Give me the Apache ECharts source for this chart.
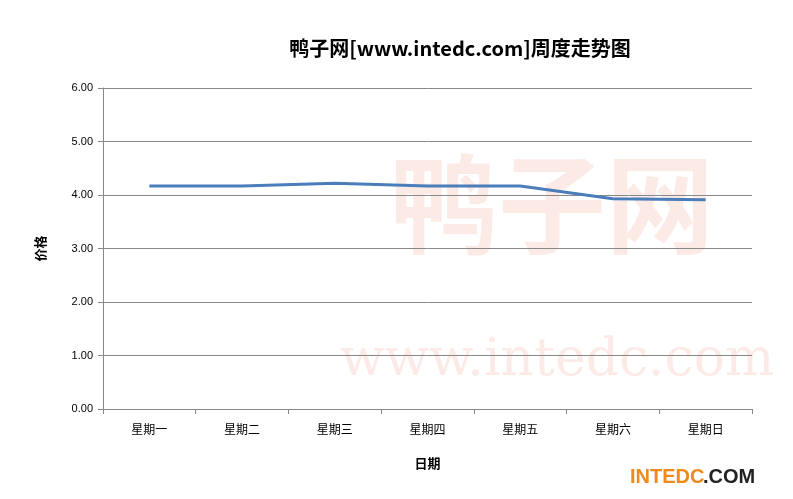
<!DOCTYPE html>
<html><head><meta charset="utf-8">
<script src="https://cdn.jsdelivr.net/npm/echarts@6/dist/echarts.min.js"></script>
<style>html,body{margin:0;padding:0;background:#fff}#c{width:793px;height:499px}</style>
</head><body><div id="c"></div>
<script>
const categories = ['星期一','星期二','星期三','星期四','星期五','星期六','星期日'];
const prices = [4.17, 4.17, 4.22, 4.17, 4.17, 3.93, 3.91];
const yTicks = [0,1,2,3,4,5,6];
const chart = echarts.init(document.getElementById('c'));
chart.setOption({
  animation:false,
  title:{text:'鸭子网[www.intedc.com]周度走势图',left:455,top:33,textAlign:'center',
    textStyle:{fontFamily:'Noto Sans CJK SC',fontSize:20,fontWeight:'bold',color:'#000'}},
  grid:{left:103,right:41,top:88,bottom:90},
  graphic:[
    {type:'text',left:390,top:150,z:-1,style:{text:'鸭子网',fontSize:108,fontFamily:'Noto Sans CJK SC',fontWeight:'bold',fill:'rgba(240,140,120,0.18)'}},
    {type:'text',left:340,top:335,z:-1,style:{text:'www.intedc.com',fontSize:52,fontFamily:'DejaVu Serif',fill:'rgba(240,140,120,0.18)'}},
    {type:'text',left:630,top:467,style:{text:'INTEDC',fontSize:20,fontWeight:'bold',fontFamily:'Liberation Sans',fill:'#f08a1c'}},
    {type:'text',left:703,top:467,style:{text:'.COM',fontSize:20,fontWeight:'bold',fontFamily:'Liberation Sans',fill:'#222'}}
  ],
  xAxis:{type:'category',data:categories,boundaryGap:true,name:'日期',nameLocation:'middle',nameGap:48,
    nameTextStyle:{fontFamily:'Noto Sans CJK SC',fontSize:13,fontWeight:'bold',color:'#000'},
    axisLine:{lineStyle:{color:'#888'}},axisTick:{show:true,length:5,lineStyle:{color:'#888'}},
    axisLabel:{fontFamily:'Noto Sans CJK SC',fontSize:12,color:'#000',margin:14}},
  yAxis:{type:'value',min:0,max:6,interval:1,name:'价格',nameLocation:'middle',nameGap:56,nameRotate:90,
    nameTextStyle:{fontFamily:'Noto Sans CJK SC',fontSize:13,fontWeight:'bold',color:'#000'},
    axisLine:{show:true,lineStyle:{color:'#888'}},axisTick:{show:true,length:5,lineStyle:{color:'#888'}},
    splitLine:{lineStyle:{color:'#888'}},
    axisLabel:{formatter:v=>v.toFixed(2),fontFamily:'Liberation Sans',fontSize:11,color:'#000',margin:10}},
  series:[{type:'line',data:prices,symbol:'none',lineStyle:{color:'#4a7ebb',width:3}}]
});
</script></body></html>
